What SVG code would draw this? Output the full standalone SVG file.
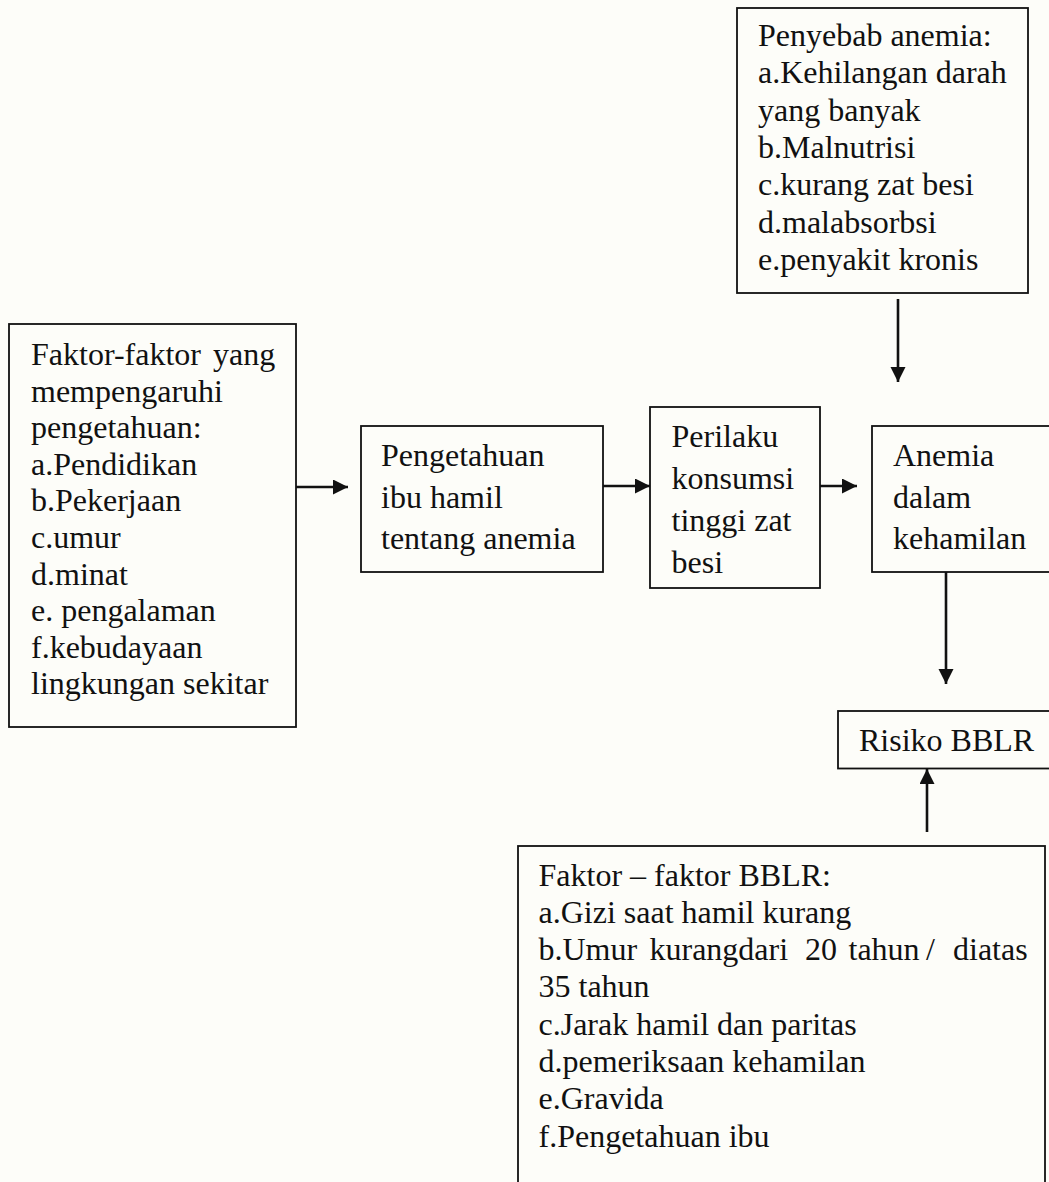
<svg xmlns="http://www.w3.org/2000/svg" width="1049" height="1182" viewBox="0 0 1049 1182">
<defs>
<style>
.box{fill:none;stroke:#111;stroke-width:1.8}
.t{font-family:"Liberation Serif","Times New Roman",serif;font-size:32px;fill:#111}
.c{fill:none;stroke:#111;stroke-width:2.6}
</style>
<marker id="ah" markerUnits="userSpaceOnUse" markerWidth="16" markerHeight="16" refX="15" refY="7.5" orient="auto" viewBox="0 0 16 16">
<path d="M0,0 L15,7.5 L0,15 z" fill="#111"/>
</marker>
</defs>
<rect x="0" y="0" width="1049" height="1182" fill="#fdfdf9"/>

<g id="penyebab">
<rect class="box" x="737" y="8" width="291" height="285"/>
<text class="t" x="758">
<tspan x="758" y="46">Penyebab anemia:</tspan>
<tspan x="758" y="83.3">a.Kehilangan darah</tspan>
<tspan x="758" y="120.6">yang banyak</tspan>
<tspan x="758" y="157.9">b.Malnutrisi</tspan>
<tspan x="758" y="195.2">c.kurang zat besi</tspan>
<tspan x="758" y="232.5">d.malabsorbsi</tspan>
<tspan x="758" y="269.8">e.penyakit kronis</tspan>
</text>
</g>

<g id="faktor">
<rect class="box" x="9" y="324" width="287" height="403"/>
<text class="t">
<tspan x="31" y="365">Faktor-faktor</tspan><tspan x="213" y="365">yang</tspan>
<tspan x="31" y="401.6">mempengaruhi</tspan>
<tspan x="31" y="438.2">pengetahuan:</tspan>
<tspan x="31" y="474.8">a.Pendidikan</tspan>
<tspan x="31" y="511.4">b.Pekerjaan</tspan>
<tspan x="31" y="548">c.umur</tspan>
<tspan x="31" y="584.6">d.minat</tspan>
<tspan x="31" y="621.2">e. pengalaman</tspan>
<tspan x="31" y="657.8">f.kebudayaan</tspan>
<tspan x="31" y="694.4">lingkungan sekitar</tspan>
</text>
</g>

<g id="pengetahuan">
<rect class="box" x="361" y="426" width="242" height="146"/>
<text class="t">
<tspan x="381" y="466">Pengetahuan</tspan>
<tspan x="381" y="507.7">ibu hamil</tspan>
<tspan x="381" y="549.4">tentang anemia</tspan>
</text>
</g>

<g id="perilaku">
<rect class="box" x="650" y="407" width="170" height="181"/>
<text class="t">
<tspan x="671.5" y="447">Perilaku</tspan>
<tspan x="671.5" y="489">konsumsi</tspan>
<tspan x="671.5" y="531">tinggi zat</tspan>
<tspan x="671.5" y="573">besi</tspan>
</text>
</g>

<g id="anemia">
<rect class="box" x="872" y="426" width="200" height="146"/>
<text class="t">
<tspan x="893" y="466">Anemia</tspan>
<tspan x="893" y="507.7">dalam</tspan>
<tspan x="893" y="549.4">kehamilan</tspan>
</text>
</g>

<g id="risiko">
<rect class="box" x="838" y="711" width="230" height="57.5"/>
<text class="t" x="859" y="751">Risiko BBLR</text>
</g>

<g id="faktor-bblr">
<rect class="box" x="518" y="846" width="527" height="345"/>
<text class="t">
<tspan x="538.5" y="885.5">Faktor – faktor BBLR:</tspan>
<tspan x="538.5" y="922.8">a.Gizi saat hamil kurang</tspan>
<tspan x="538.5" y="960.1">b.Umur</tspan><tspan x="649.5" y="960.1">kurangdari</tspan><tspan x="805" y="960.1">20</tspan><tspan x="848.5" y="960.1">tahun</tspan><tspan x="926" y="960.1">/</tspan><tspan x="953" y="960.1">diatas</tspan>
<tspan x="538.5" y="997.4">35 tahun</tspan>
<tspan x="538.5" y="1034.7">c.Jarak hamil dan paritas</tspan>
<tspan x="538.5" y="1072">d.pemeriksaan kehamilan</tspan>
<tspan x="538.5" y="1109.3">e.Gravida</tspan>
<tspan x="538.5" y="1146.6">f.Pengetahuan ibu</tspan>
</text>
</g>

<g id="connectors">
<line class="c" x1="296" y1="487" x2="348" y2="487" marker-end="url(#ah)"/>
<line class="c" x1="603" y1="486" x2="650" y2="486" marker-end="url(#ah)"/>
<line class="c" x1="820" y1="486" x2="857" y2="486" marker-end="url(#ah)"/>
<line class="c" x1="898" y1="299" x2="898" y2="382" marker-end="url(#ah)"/>
<line class="c" x1="946" y1="572" x2="946" y2="684" marker-end="url(#ah)"/>
<line class="c" x1="927" y1="832" x2="927" y2="769" marker-end="url(#ah)"/>
</g>
</svg>
